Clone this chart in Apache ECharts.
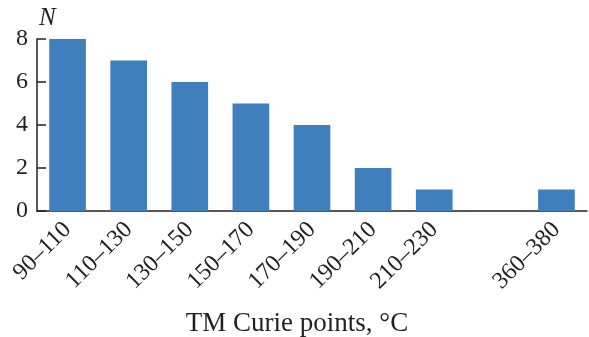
<!DOCTYPE html>
<html>
<head>
<meta charset="utf-8">
<script src="https://cdn.jsdelivr.net/npm/echarts@6/dist/echarts.min.js"></script>
<style>
  html, body { margin: 0; padding: 0; background: #fff; }
  #chart { width: 589px; height: 337px; }
</style>
</head>
<body>
<div id="chart"></div>
<script>
  // temperature ranges (one empty slot before the last bar)
  var categories = ['90–110', '110–130', '130–150', '150–170', '170–190', '190–210', '210–230', '', '360–380'];
  var counts = [8, 7, 6, 5, 4, 2, 1, '-', 1];
  var yTicks = [0, 2, 4, 6, 8];

  var font = 'Liberation Serif';
  var ink = '#231f20';

  var chart = echarts.init(document.getElementById('chart'));
  chart.setOption({
    animation: false,
    grid: { left: 37, right: 2, top: 39, bottom: 126, outerBoundsMode: 'none', containLabel: false },
    xAxis: {
      type: 'category',
      data: categories,
      name: 'TM Curie points, °C',
      nameLocation: 'middle',
      nameGap: 99,
      nameMoveOverlap: false,
      // title sits a little left of the plot centre
      nameTextStyle: { fontFamily: font, fontSize: 27, color: ink, padding: [0, 30, 0, 0] },
      axisLine: { lineStyle: { color: ink, width: 1.5 } },
      axisTick: { inside: true, length: 9, lineStyle: { color: ink, width: 1.5 } },
      axisLabel: { rotate: 45, interval: 0, margin: 15, fontFamily: font, fontSize: 24, color: ink }
    },
    yAxis: {
      type: 'value',
      min: yTicks[0],
      max: yTicks[yTicks.length - 1],
      interval: 2,
      name: 'N',
      nameGap: 8,
      nameTextStyle: { fontFamily: font, fontSize: 25, fontStyle: 'italic', color: ink, align: 'left', padding: [0, 0, 0, 2] },
      splitLine: { show: false },
      axisLine: { show: true, lineStyle: { color: ink, width: 1.5 } },
      axisTick: { show: true, inside: true, length: 9, lineStyle: { color: ink, width: 1.5 } },
      axisLabel: { margin: 9, fontFamily: font, fontSize: 24, color: ink }
    },
    series: [{
      type: 'bar',
      data: counts,
      barWidth: '60%',
      itemStyle: { color: '#3f7fbd' }
    }]
  });
</script>
</body>
</html>
